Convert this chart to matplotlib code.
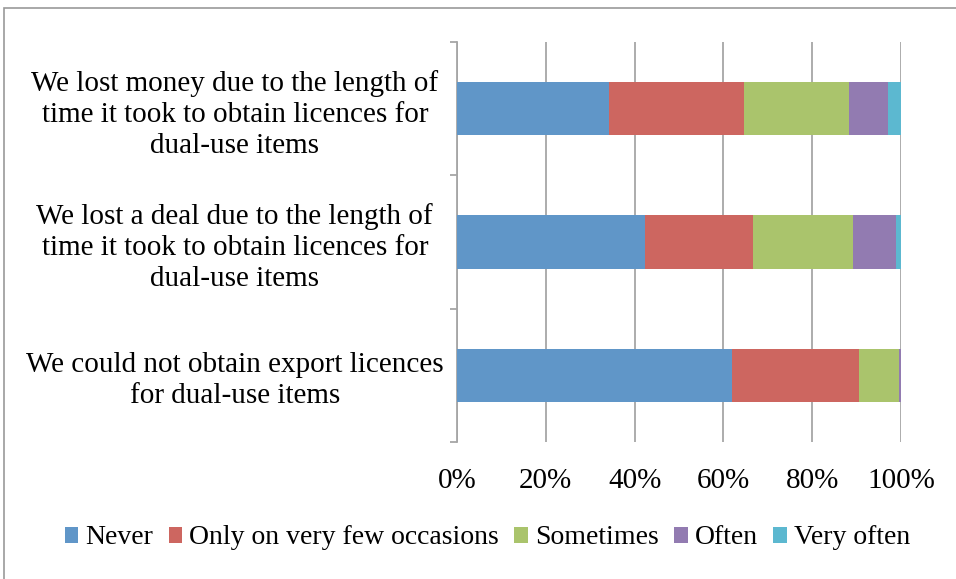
import matplotlib
matplotlib.use('Agg')
import matplotlib.pyplot as plt
from matplotlib.patches import Rectangle
import numpy as np

plt.rcParams['font.family'] = ['Liberation Serif', 'DejaVu Serif']

# Survey statements (bottom to top) and answer shares in percent
statements = [
    'We could not obtain export licences\nfor dual-use items',
    'We lost a deal due to the length of\ntime it took to obtain licences for\ndual-use items',
    'We lost money due to the length of\ntime it took to obtain licences for\ndual-use items',
]
answers = ['Never', 'Only on very few occasions', 'Sometimes', 'Often', 'Very often']
never = [61.9, 42.3, 34.2]
very_few = [28.6, 24.4, 30.4]
sometimes = [9.0, 22.6, 23.7]
often = [0.5, 9.6, 8.8]
very_often = [0.0, 1.1, 2.9]
colors = ['#6096c8', '#cd6660', '#aac46c', '#927bb1', '#5cb8d0']

series = [never, very_few, sometimes, often, very_often]

fig = plt.figure(figsize=(9.56, 5.79), dpi=100)
ax = fig.add_axes([457 / 956, 1 - 442 / 579, 444 / 956, 400 / 579])

y = np.arange(len(statements))
left = np.zeros(len(statements))
for vals, lab, col in zip(series, answers, colors):
    ax.barh(y, vals, left=left, height=0.4, color=col, label=lab, zorder=3)
    left += np.array(vals)

ax.set_xlim(0, 100)
ax.set_ylim(-0.5, 2.5)
ax.set_xticks(np.arange(0, 101, 20))
ax.set_xticklabels([f'{v}%' for v in range(0, 101, 20)], fontsize=21)
ax.xaxis.grid(True, color='#a6a6a6', linewidth=1.3, zorder=0)
ax.tick_params(axis='x', length=0, pad=19)

ax.set_yticks(y)
ax.set_yticklabels(statements, fontsize=21, ha='center', linespacing=1.25)
ax.tick_params(axis='y', which='major', length=0, pad=160)
ax.set_yticks(np.arange(-0.5, 2.6, 1), minor=True)
ax.tick_params(axis='y', which='minor', length=5, color='#a6a6a6', width=1.3)

for s in ['top', 'right', 'bottom']:
    ax.spines[s].set_visible(False)
ax.spines['left'].set_color('#a6a6a6')
ax.spines['left'].set_linewidth(1.3)

fig.legend(loc='center', bbox_to_anchor=(0.51, 1 - 538 / 579), ncol=5, frameon=False,
           fontsize=20, handlelength=0.5, handleheight=0.5, handletextpad=0.25,
           columnspacing=0.55)

# thin grey frame around the chart area
fig.patches.append(Rectangle((4 / 956, -0.1), 1.2, 1.1 - 8 / 579, transform=fig.transFigure,
                             fill=False, edgecolor='#999999', linewidth=1.2))

fig.savefig('out.png', dpi=100)
